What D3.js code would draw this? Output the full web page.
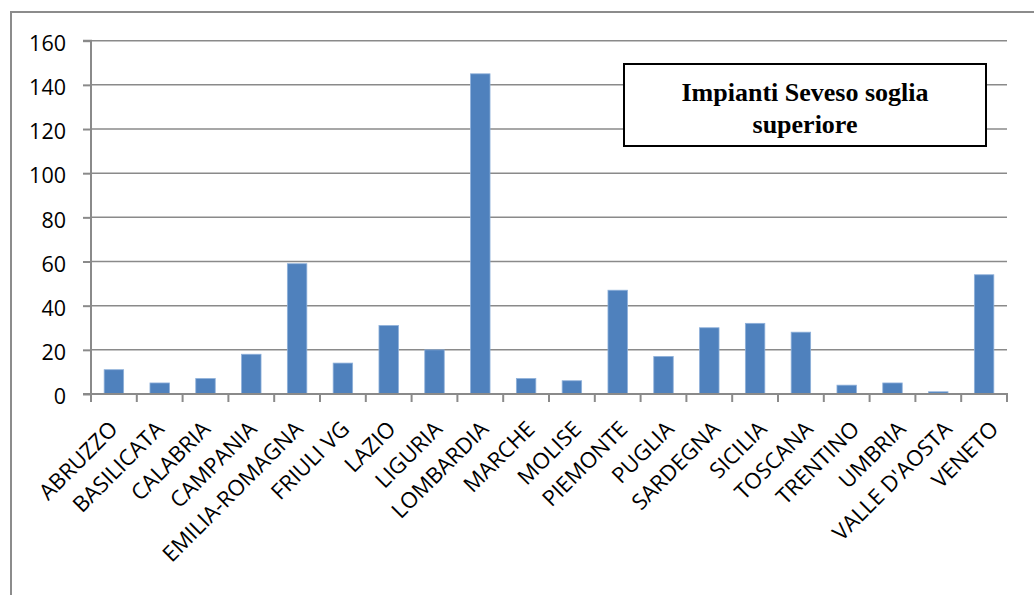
<!DOCTYPE html>
<html>
<head>
<meta charset="utf-8">
<script src="https://cdn.jsdelivr.net/npm/d3@7"></script>
<style>
  html, body { margin: 0; padding: 0; background: #fff; }
  svg { display: block; }
</style>
</head>
<body>
<svg id="chart" width="1034" height="595"></svg>
<script>
const regions = ["ABRUZZO","BASILICATA","CALABRIA","CAMPANIA","EMILIA-ROMAGNA","FRIULI VG","LAZIO","LIGURIA","LOMBARDIA","MARCHE","MOLISE","PIEMONTE","PUGLIA","SARDEGNA","SICILIA","TOSCANA","TRENTINO","UMBRIA","VALLE D'AOSTA","VENETO"];
const impianti = [11,5,7,18,59,14,31,20,145,7,6,47,17,30,32,28,4,5,1,54];
const yTicks = [0,20,40,60,80,100,120,140,160];
const titleLines = ["Impianti Seveso soglia","superiore"];

const svg = d3.select("#chart");
const plot = {left: 91, right: 1007, top: 40.7, bottom: 394};

// outer chart-area border (top and left only visible)
svg.append("path")
  .attr("d", "M11,595 L11,12 L1034,12")
  .attr("fill","none").attr("stroke","#8c8c8c").attr("stroke-width",2);

const x = d3.scaleBand().domain(regions).range([plot.left, plot.right]).paddingInner(0.575).paddingOuter(0.2875);
const xb = d3.scaleBand().domain(regions).range([plot.left, plot.right]);
const xl = d3.scaleBand().domain(regions).range([95.8, 1023]);
const y = d3.scaleLinear().domain([0,160]).range([plot.bottom, plot.top]);

// gridlines
svg.append("g").selectAll("line").data(yTicks.filter(d=>d>0)).join("line")
  .attr("x1", plot.left).attr("x2", plot.right)
  .attr("y1", d=>y(d)).attr("y2", d=>y(d))
  .attr("stroke","#8a8a8a").attr("stroke-width",1.5);

// bars
svg.append("g").selectAll("rect").data(impianti).join("rect")
  .attr("x", (d,i)=>x(regions[i]))
  .attr("width", x.bandwidth())
  .attr("y", d=>y(d))
  .attr("height", d=>y(0)-y(d))
  .attr("fill","#4f81bd")
  .attr("stroke","#8eb0da").attr("stroke-width",0.8);

// y axis
const yAxis = d3.axisLeft(y).tickValues(yTicks).tickSize(8).tickPadding(17);
const gy = svg.append("g").attr("transform",`translate(${plot.left},0)`).call(yAxis);
gy.select(".domain").attr("stroke","#8a8a8a").attr("stroke-width",2).attr("d",`M-8,${plot.top}H0V${plot.bottom}`);
gy.selectAll(".tick line").attr("stroke","#8a8a8a").attr("stroke-width",2);
gy.selectAll(".tick text").attr("font-family","'Open Sans', sans-serif").attr("font-size",21.5).attr("fill","#000").attr("dy","0.45em");

// x axis with ticks at band boundaries
const gx = svg.append("g");
gx.append("line").attr("x1",plot.left-8).attr("x2",plot.right+1).attr("y1",plot.bottom).attr("y2",plot.bottom)
  .attr("stroke","#8a8a8a").attr("stroke-width",2);
const bounds = regions.map(r=>xb(r)).concat([plot.right]);
gx.selectAll("line.tk").data(bounds).join("line").attr("class","tk")
  .attr("x1",d=>d).attr("x2",d=>d).attr("y1",plot.bottom).attr("y2",plot.bottom+8)
  .attr("stroke","#8a8a8a").attr("stroke-width",2);
gx.selectAll("text").data(regions).join("text")
  .attr("transform", d=>`translate(${xl(d)+xl.bandwidth()/2},430.5) rotate(-45)`)
  .attr("text-anchor","end")
  .attr("font-family","'Open Sans', sans-serif").attr("font-size",22).attr("fill","#000")
  .text(d=>d);

// title box
const box = {x: 624, y: 64, w: 362, h: 82};
svg.append("rect").attr("x",box.x).attr("y",box.y).attr("width",box.w).attr("height",box.h)
  .attr("fill","#fff").attr("stroke","#000").attr("stroke-width",2);
svg.append("g").selectAll("text").data(titleLines).join("text")
  .attr("x", box.x+box.w/2).attr("y",(d,i)=>100.5+i*32)
  .attr("text-anchor","middle")
  .attr("font-family","'Liberation Serif', 'Times New Roman', serif").attr("font-weight","bold").attr("font-size",26)
  .attr("fill","#000").text(d=>d);
</script>
</body>
</html>
